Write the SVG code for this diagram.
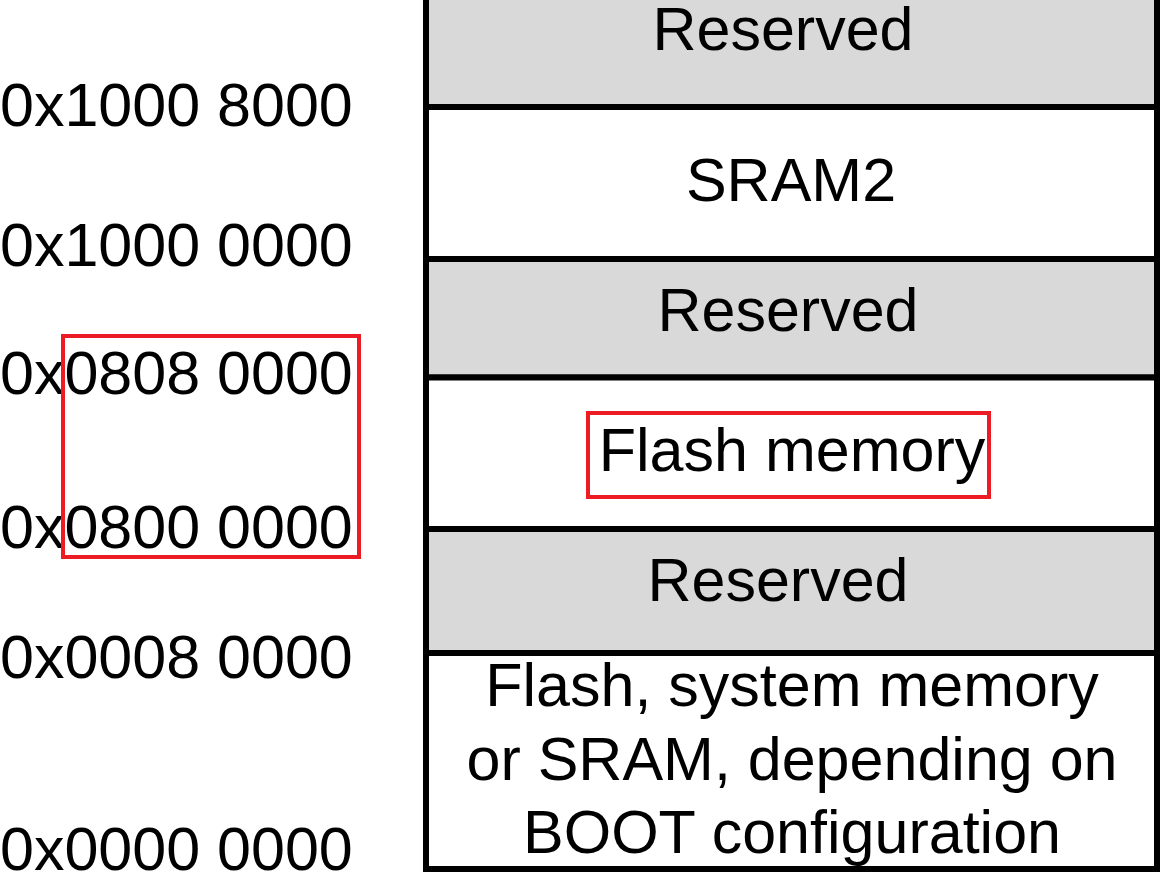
<svg xmlns="http://www.w3.org/2000/svg" width="1167" height="887" viewBox="0 0 1167 887">
  <style>
    .region { stroke: #000; stroke-width: 6; }
    .reserved { fill: #d9d9d9; }
    .used { fill: #fff; }
    .label { font-family: "Liberation Sans", Arial, sans-serif; font-size: 61px; fill: #000; text-anchor: middle; }
    .addr { font-family: "Liberation Sans", Arial, sans-serif; font-size: 61px; fill: #000; }
    .highlight { fill: none; stroke: #ed1c24; stroke-width: 4; }
  </style>
  <rect x="0" y="0" width="1167" height="887" fill="#fff"/>

  <!-- memory regions, top to bottom -->
  <g id="reserved-top">
    <rect class="region reserved" x="426" y="-10" width="731" height="117"/>
    <text class="label" x="783" y="50">Reserved</text>
  </g>
  <g id="sram2">
    <rect class="region used" x="426" y="107" width="731" height="152"/>
    <text class="label" x="791" y="201">SRAM2</text>
  </g>
  <g id="reserved-mid">
    <rect class="region reserved" x="426" y="259" width="731" height="118.5"/>
    <text class="label" x="788" y="331">Reserved</text>
  </g>
  <g id="flash">
    <rect class="region used" x="426" y="377.5" width="731" height="151.5"/>
    <text class="label" x="792" y="471">Flash memory</text>
  </g>
  <g id="reserved-low">
    <rect class="region reserved" x="426" y="529" width="731" height="124"/>
    <text class="label" x="778" y="601">Reserved</text>
  </g>
  <g id="boot-alias">
    <rect class="region used" x="426" y="653" width="731" height="216"/>
    <text class="label" x="792" y="706">Flash, system memory</text>
    <text class="label" x="792" y="780">or SRAM, depending on</text>
    <text class="label" x="792" y="853">BOOT configuration</text>
  </g>

  <!-- boundary addresses -->
  <g id="addresses">
    <text class="addr" x="0" y="126">0x1000 8000</text>
    <text class="addr" x="0" y="266">0x1000 0000</text>
    <text class="addr" x="0" y="394">0x0808 0000</text>
    <text class="addr" x="0" y="548">0x0800 0000</text>
    <text class="addr" x="0" y="678">0x0008 0000</text>
    <text class="addr" x="0" y="870">0x0000 0000</text>
  </g>

  <!-- red highlight frames -->
  <g id="highlights">
    <rect class="highlight" x="63" y="336" width="296" height="221"/>
    <rect class="highlight" x="588" y="413" width="401" height="84"/>
  </g>
</svg>
